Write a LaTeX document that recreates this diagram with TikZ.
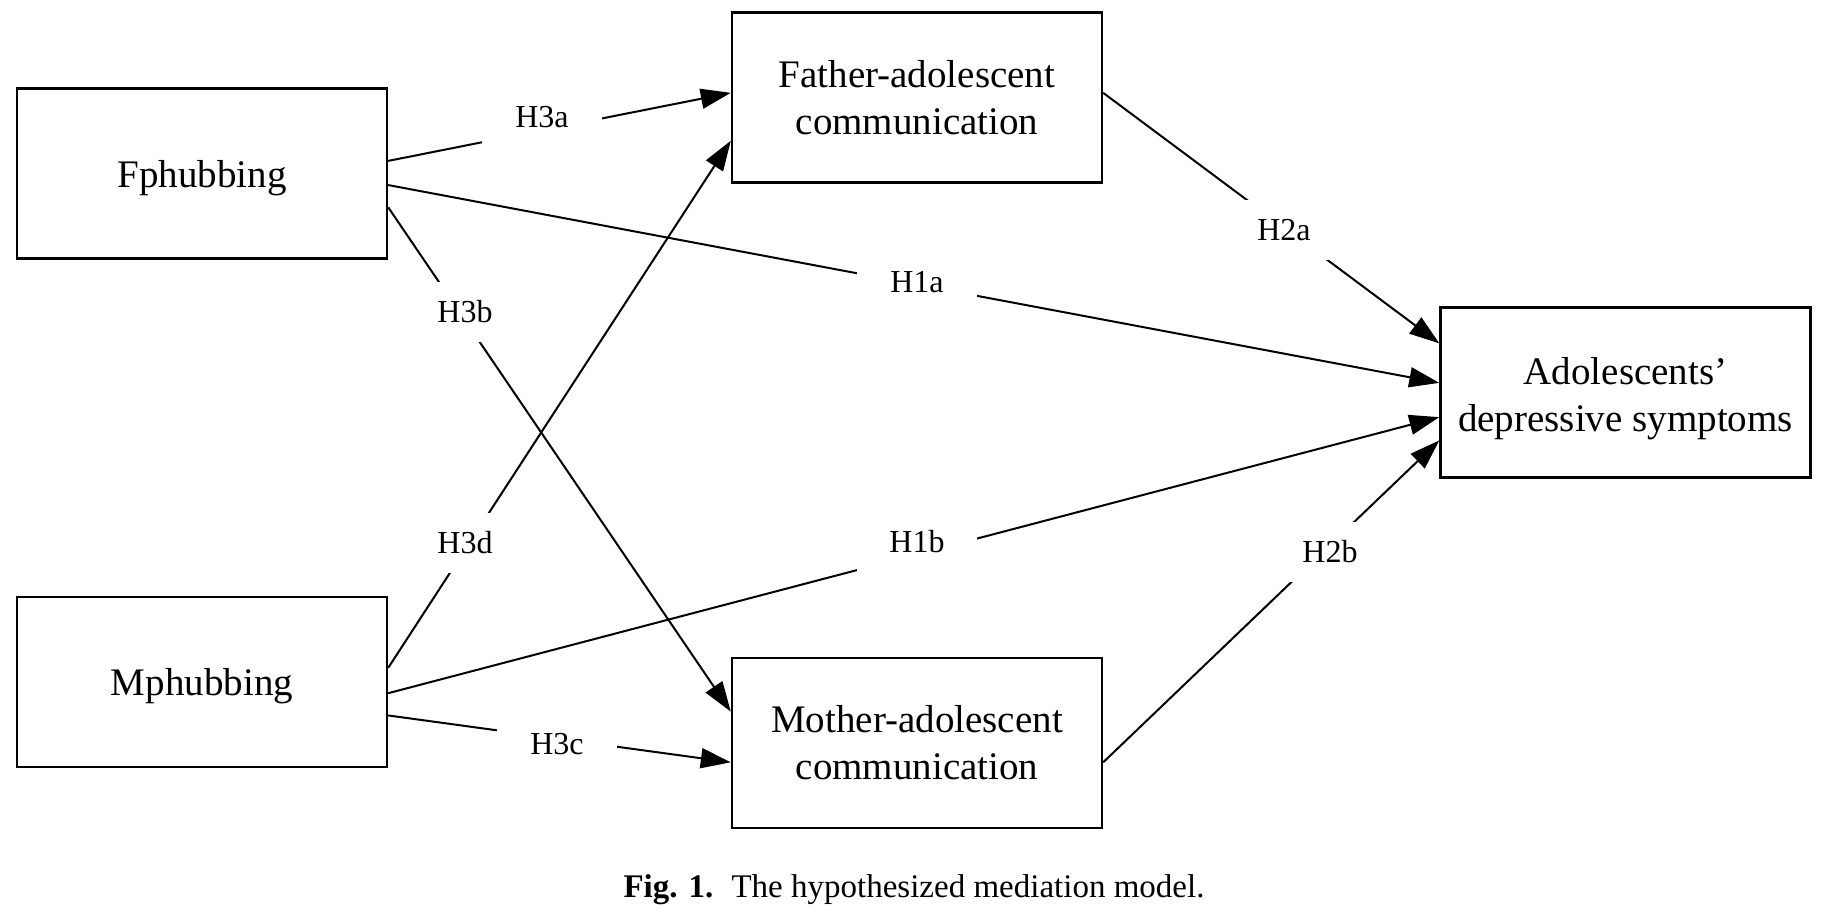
\documentclass[tikz,border=0pt]{standalone}
\usepackage{fontspec}
\setmainfont{Liberation Serif}
\usetikzlibrary{arrows.meta,calc}
\begin{document}
\begin{tikzpicture}[x=0.5pt,y=-0.5pt,
  box/.style={draw,line width=1.2pt,minimum width=185pt,minimum height=85pt,inner sep=0pt,align=center,font=\fontsize{19.5}{23.5}\selectfont},
  onebox/.style={box,text depth=0pt},
  conn/.style={line width=1pt,-{Triangle[length=15pt,width=10pt]}},
  lab/.style={fill=white,minimum width=60pt,minimum height=30pt,inner sep=0pt,font=\fontsize{16}{19}\selectfont},
  captext/.style={inner sep=0pt,font=\fontsize{16.5}{19}\selectfont}]
\useasboundingbox (0,0) rectangle (1821,914);

% boxes
\node[onebox] (fph) at (202,173.5) {Fphubbing};
\node[onebox] (mph) at (202,682) {Mphubbing};
\node[box] (fa) at (917,97.5) {Father-adolescent\\communication};
\node[box] (ma) at (917,743) {Mother-adolescent\\communication};
\node[box] (ad) at (1625.5,392.5) {\raisebox{-3pt}[\height][\depth]{\begin{tabular}{@{}c@{}}Adolescents’\hspace{0.6em}\\depressive symptoms\end{tabular}}};

% attachment points
\coordinate (fA) at ($(fph.north east)!0.427!(fph.south east)$);
\coordinate (fB) at ($(fph.north east)!0.567!(fph.south east)$);
\coordinate (fC) at ($(fph.north east)!0.696!(fph.south east)$);
\coordinate (mA) at ($(mph.north east)!0.418!(mph.south east)$);
\coordinate (mB) at ($(mph.north east)!0.565!(mph.south east)$);
\coordinate (mC) at ($(mph.north east)!0.694!(mph.south east)$);
\coordinate (faA) at ($(fa.north west)!0.473!(fa.south west)$);
\coordinate (faB) at ($(fa.north west)!0.751!(fa.south west)$);
\coordinate (faO) at ($(fa.north east)!0.473!(fa.south east)$);
\coordinate (maA) at ($(ma.north west)!0.318!(ma.south west)$);
\coordinate (maB) at ($(ma.north west)!0.612!(ma.south west)$);
\coordinate (maO) at ($(ma.north east)!0.612!(ma.south east)$);
\coordinate (adA) at ($(ad.north west)!0.215!(ad.south west)$);
\coordinate (adB) at ($(ad.north west)!0.444!(ad.south west)$);
\coordinate (adC) at ($(ad.north west)!0.643!(ad.south west)$);
\coordinate (adD) at ($(ad.north west)!0.778!(ad.south west)$);

% connectors
\draw[conn] (fA) -- (faA);
\draw[conn] (fB) -- (adB);
\draw[conn] (fC) -- (maA);
\draw[conn] (mA) -- (faB);
\draw[conn] (mB) -- (adC);
\draw[conn] (mC) -- (maB);
\draw[conn] (faO) -- (adA);
\draw[conn] (maO) -- (adD);

% labels
\node[lab] (l3a) at (542,117) {H3a};
\node[lab] (l1a) at (917,282) {H1a};
\node[lab] (l3b) at (465,312) {H3b};
\node[lab] (l3d) at (465,543) {H3d};
\node[lab] (l1b) at (917,542) {H1b};
\node[lab] (l3c) at (557,744) {H3c};
\node[lab] (l2a) at (1284,230) {H2a};
\node[lab] (l2b) at (1330,552) {H2b};

% caption
\node[captext] (caption) at (914,890) {\textbf{Fig. 1.}\hspace{0.55em}The hypothesized mediation model.};
\end{tikzpicture}
\end{document}
